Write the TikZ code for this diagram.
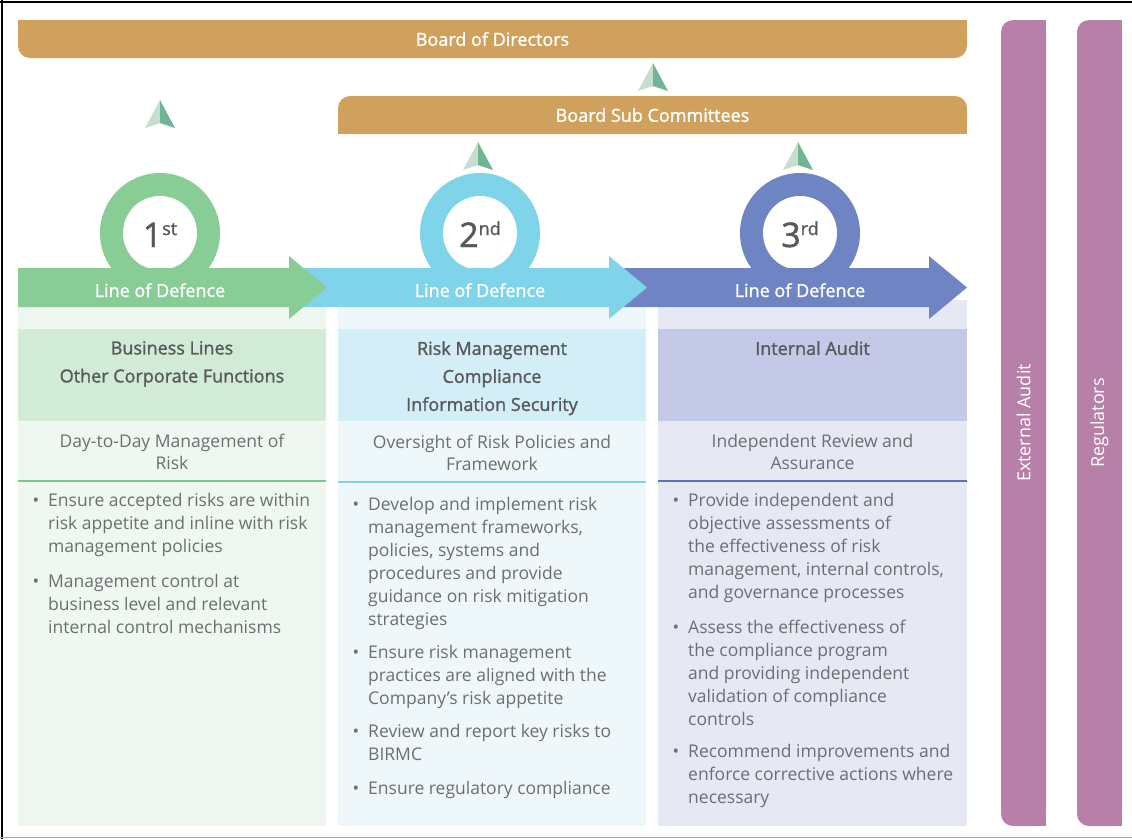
\documentclass[tikz,border=0pt]{standalone}
\usepackage{fontspec}
\setmainfont{Open Sans}
\newfontfamily\semibold[FakeBold=1.3]{Open Sans}

\definecolor{gold}{HTML}{CFA15C}
\definecolor{lodgreen}{HTML}{88CC96}
\definecolor{lodblue}{HTML}{80D4EA}
\definecolor{lodindigo}{HTML}{6F84C2}
\definecolor{mauve}{HTML}{B780A8}
\definecolor{hdgreen}{HTML}{D1EBD6}
\definecolor{bggreen}{HTML}{EEF8F1}
\definecolor{hdblue}{HTML}{D3EEF6}
\definecolor{bgblue}{HTML}{EEF8FB}
\definecolor{hdindigo}{HTML}{C3C9E7}
\definecolor{bgindigo}{HTML}{E6E8F4}
\definecolor{rulegreen}{HTML}{7DC68C}
\definecolor{ruleindigo}{HTML}{5E72B8}
\definecolor{txtgray}{HTML}{6D6E71}
\definecolor{hdgray}{HTML}{58595B}
\definecolor{tipdark}{HTML}{72B594}
\definecolor{tiplight}{HTML}{C8DDD2}

\newcommand\itemdot{\llap{\textbullet\hspace{9pt}}}

\begin{document}
\begin{tikzpicture}[x=1pt, y=-1pt, every node/.style={inner sep=0pt},
	topbar/.style={fill=gold, text=white, rounded corners=12pt, font=\semibold\fontsize{18}{18}\selectfont},
	sidebar/.style={fill=mauve, text=white, rotate=90, rounded corners=12pt, font=\fontsize{18}{18}\selectfont},
	bandlabel/.style={text=white, anchor=base, font=\semibold\fontsize{18}{18}\selectfont},
	ordinal/.style={text=hdgray, anchor=base, font=\semibold\fontsize{34}{34}\selectfont},
	panelhead/.style={text=hdgray, align=center, anchor=north, font=\semibold\fontsize{18}{28}\selectfont},
	panelsub/.style={text=txtgray, align=center, font=\fontsize{17.5}{22}\selectfont},
	bullets/.style={text=txtgray, align=left, anchor=north west, font=\fontsize{17.5}{23}\selectfont},
	uptip/.pic={
		\fill[tiplight] (0,0) -- (-15,28) -- (0,23) -- cycle;
		\fill[tipdark] (0,0) -- (0,23) -- (15,28) -- cycle;}]
		\useasboundingbox (0,0) rectangle (1132,839);
		
		% board bars (square halves first, rounded nodes on top)
		\fill[gold] (18,20) rectangle (967,40);
		\node[topbar, minimum width=949pt, minimum height=38pt] (bod) at (492.5,39) {Board of Directors};
		\fill[gold] (338,115) rectangle (967,134);
		\node[topbar, minimum width=629pt, minimum height=38pt] (bsc) at (652.5,115) {Board Sub Committees};
		
		\pic (tip1) at (160,100) {uptip};
		\pic (tip2) at (653,63) {uptip};
		\pic (tip3) at (478,142) {uptip};
		\pic (tip4) at (798,142) {uptip};
		
		% outside parties
		\fill[mauve] (1023.5,20) rectangle (1046,826);
		\node[sidebar, minimum width=806pt, minimum height=45pt] (ext) at (1023.5,423) {External Audit};
		\fill[mauve] (1099.5,20) rectangle (1122,826);
		\node[sidebar, minimum width=806pt, minimum height=45pt] (reg) at (1099.5,423) {Regulators};
		
		% columns
		\fill[bggreen] (18,300) rectangle (326,826);
		\fill[bgblue] (338,300) rectangle (646,826);
		\fill[bgindigo] (658,300) rectangle (967,826);
		\fill[hdgreen] (18,329) rectangle (326,421);
		\fill[hdblue] (338,329) rectangle (646,421);
		\fill[hdindigo] (658,329) rectangle (967,421);
		
		% rings and arrows, right to left so each head sits on the next one
		\fill[lodindigo] (800,233) circle (60);
		\fill[white] (800,233) circle (37);
		\fill[lodindigo] (620,268) -- (929,268) -- (929,256) -- (967,287.5) -- (929,319) -- (929,307) -- (620,307) -- cycle;
		\fill[lodblue] (480,233) circle (60);
		\fill[white] (480,233) circle (37);
		\fill[lodblue] (300,268) -- (609,268) -- (609,256) -- (647,287.5) -- (609,319) -- (609,307) -- (300,307) -- cycle;
		\fill[lodgreen] (160,233) circle (60);
		\fill[white] (160,233) circle (37);
		\fill[lodgreen] (18,268) -- (289,268) -- (289,256) -- (327,287.5) -- (289,319) -- (289,307) -- (18,307) -- cycle;
		
		\node[ordinal] (ord1) at (160,247) {1\raisebox{12pt}{\fontsize{18}{18}\selectfont st}};
		\node[ordinal] (ord2) at (480,247) {2\raisebox{12pt}{\fontsize{18}{18}\selectfont nd}};
		\node[ordinal] (ord3) at (800,247) {3\raisebox{12pt}{\fontsize{18}{18}\selectfont rd}};
		\node[bandlabel] (lod1) at (160,297) {Line of Defence};
		\node[bandlabel] (lod2) at (480,297) {Line of Defence};
		\node[bandlabel] (lod3) at (800,297) {Line of Defence};
		
		\node[panelhead] (head1) at (172,341) {Business Lines\\Other Corporate Functions};
		\node[panelhead] (head2) at (492,341) {Risk Management\\Compliance\\Information Security};
		\node[panelhead] (head3) at (812.5,341) {Internal Audit};
		
		\node[panelsub] (sub1) at (172,452) {Day-to-Day Management of\\Risk};
		\node[panelsub] (sub2) at (492,453) {Oversight of Risk Policies and\\Framework};
		\node[panelsub] (sub3) at (812.5,452) {Independent Review and\\Assurance};
		\draw[rulegreen, line width=1.5pt] (18,481) -- (326,481);
		\draw[lodblue, line width=1.5pt] (338,482) -- (646,482);
		\draw[ruleindigo, line width=1.5pt] (658,481) -- (967,481);
		
		\node[bullets] (b11) at (48,492.5) {\itemdot Ensure accepted risks are within\\risk appetite and inline with risk\\management policies};
		\node[bullets] (b12) at (48,573.5) {\itemdot Management control at\\business level and relevant\\internal control mechanisms};
		
		\node[bullets] (b21) at (368,496.5) {\itemdot Develop and implement risk\\management frameworks,\\policies, systems and\\procedures and provide\\guidance on risk mitigation\\strategies};
		\node[bullets] (b22) at (368,644.5) {\itemdot Ensure risk management\\practices are aligned with the\\Company’s risk appetite};
		\node[bullets] (b23) at (368,723.5) {\itemdot Review and report key risks to\\BIRMC};
		\node[bullets] (b24) at (368,780.5) {\itemdot Ensure regulatory compliance};
		
		\node[bullets] (b31) at (688,492.5) {\itemdot Provide independent and\\objective assessments of\\the effectiveness of risk\\management, internal controls,\\and governance processes};
		\node[bullets] (b32) at (688,619.5) {\itemdot Assess the effectiveness of\\the compliance program\\and providing independent\\validation of compliance\\controls};
		\node[bullets] (b33) at (688,743.5) {\itemdot Recommend improvements and\\enforce corrective actions where\\necessary};
		
		% page frame
		\draw[line width=2pt] (0,2) -- (1132,2);
		\draw[line width=2pt] (2,0) -- (2,839);
		\draw[gray!70, line width=1.5pt] (0,837.5) -- (1132,837.5);
\end{tikzpicture}
\end{document}
